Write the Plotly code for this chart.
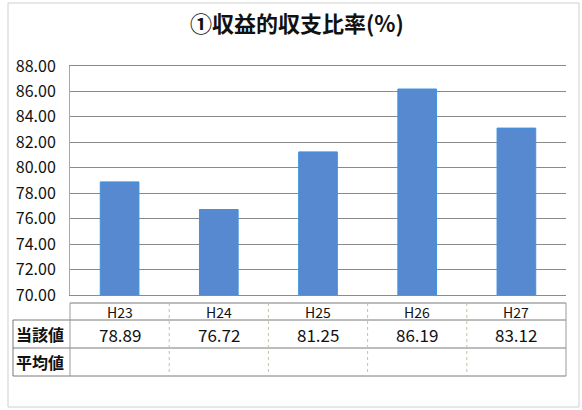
import plotly.graph_objects as go

categories = ["H23", "H24", "H25", "H26", "H27"]
values = [78.89, 76.72, 81.25, 86.19, 83.12]
value_labels = ["78.89", "76.72", "81.25", "86.19", "83.12"]
row_labels = ["当該値", "平均値"]
title_text = "①収益的収支比率(%)"
y_ticks = [70, 72, 74, 76, 78, 80, 82, 84, 86, 88]

FONT = "Noto Sans CJK JP"
W, H = 582, 410
ML, MR, MT, MB = 70, 16, 66, 115
plot_h = H - MT - MB
plot_w = W - ML - MR

def py(pix):
    return (H - MB - pix) / plot_h

def px(pix):
    return (pix - ML) / plot_w

fig = go.Figure()
fig.add_trace(go.Bar(
    x=categories, y=values,
    marker=dict(color="#5689d0", line=dict(color="#3f93e0", width=1)),
    width=0.39,
))

shapes = []
grid = "#8a8a8a"
# table horizontal lines
y_top, y_hdr, y_r1, y_r2 = py(303), py(320), py(348), py(376)
for yy, x0 in [(y_top, px(70)), (y_hdr, px(13)), (y_r1, px(13)), (y_r2, px(13))]:
    shapes.append(dict(type="line", xref="paper", yref="paper", x0=x0, x1=1.0,
                       y0=yy, y1=yy, line=dict(color="#7a7a7a", width=1)))
# table outer verticals
shapes.append(dict(type="line", xref="paper", yref="paper", x0=px(13), x1=px(13),
                   y0=y_hdr, y1=y_r2, line=dict(color="#7a7a7a", width=1)))
shapes.append(dict(type="line", xref="paper", yref="paper", x0=0, x1=0,
                   y0=y_top, y1=y_r2, line=dict(color="#9a9a9a", width=1)))
shapes.append(dict(type="line", xref="paper", yref="paper", x0=1, x1=1,
                   y0=y_top, y1=y_r2, line=dict(color="#9a9a9a", width=1)))
# column dividers
for k in range(1, len(categories)):
    shapes.append(dict(type="line", xref="x", yref="paper", x0=k - 0.5, x1=k - 0.5,
                       y0=y_top, y1=y_r2, line=dict(color="#c8c0a0", width=1, dash="dot")))
# outer chart border
shapes.append(dict(type="rect", xref="paper", yref="paper", x0=px(8), x1=px(579),
                   y0=py(407), y1=py(3), line=dict(color="#cfcfcf", width=1)))

def ann(x, y, text, size, xref="x", bold=False):
    return dict(x=x, y=y, xref=xref, yref="paper",
                text=("<b>" + text + "</b>") if bold else text,
                showarrow=False, xanchor="center", yanchor="middle",
                font=dict(family=FONT, size=size, color="#111"))

annotations = []
for c in categories:
    annotations.append(ann(c, py(311.5), c, 14))
for c, v in zip(categories, value_labels):
    annotations.append(ann(c, py(334), v, 17))
for lab, yy in zip(row_labels, [334, 362]):
    annotations.append(ann(px(40), py(yy), lab, 16, xref="paper", bold=True))
annotations.append(ann(px(297), py(22), title_text, 22, xref="paper", bold=True))

fig.update_layout(
    width=W, height=H,
    margin=dict(l=ML, r=MR, t=MT, b=MB),
    paper_bgcolor="white", plot_bgcolor="white",
    showlegend=False,
    bargap=0.6,
    shapes=shapes,
    annotations=annotations,
    xaxis=dict(showticklabels=False, showgrid=False, zeroline=False,
               showline=True, linecolor=grid, mirror=True, ticks=""),
    yaxis=dict(range=[70, 88], tickvals=y_ticks,
               ticktext=[f"{t:.2f}" for t in y_ticks],
               showgrid=True, gridcolor=grid, gridwidth=1,
               showline=True, linecolor="#c0a090", mirror=False,
               zeroline=False, ticks="", ticklabelstandoff=10,
               tickfont=dict(family=FONT, size=16, color="#111")),
)

fig.write_html("out.html")
